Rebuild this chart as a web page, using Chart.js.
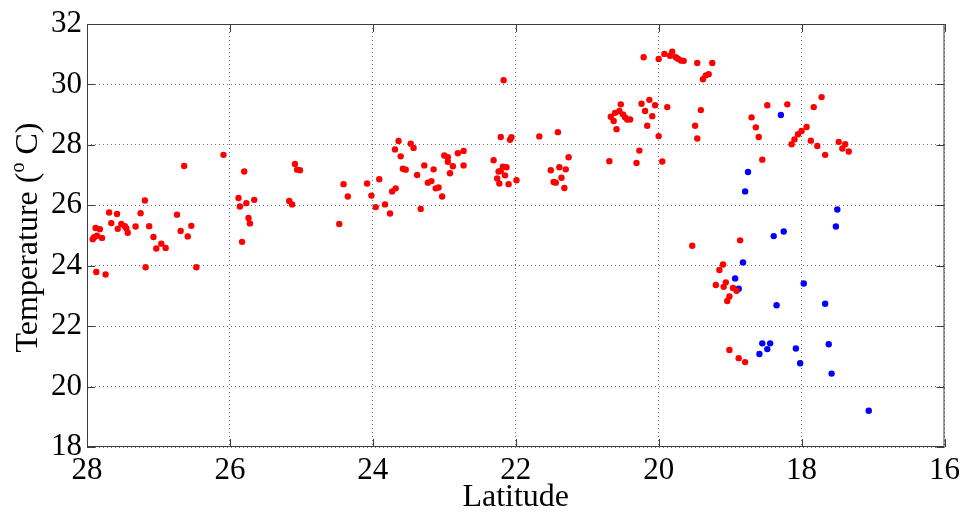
<!DOCTYPE html>
<html>
<head>
<meta charset="utf-8">
<title>Temperature vs Latitude</title>
<script src="https://cdn.jsdelivr.net/npm/chart.js@4.4.1/dist/chart.umd.min.js"></script>
<style>
    html, body { margin: 0; padding: 0; background: #ffffff; }
    #tempChart { display: block; }
</style>
</head>
<body>
<canvas id="tempChart" width="965" height="513"></canvas>
<script>
// Station readings, red group
const redLat = [
    26.09, 26.64, 27.19, 27.69, 27.58, 27.25, 26.74, 27.66, 27.52, 27.47, 27.45, 27.43, 27.57, 27.32, 27.13,
    27.88, 27.82, 27.86, 27.90, 27.92, 27.79, 27.07, 26.96, 27.03, 26.90, 26.69, 26.54, 26.59, 27.18, 26.47,
    27.87, 27.74, 25.88, 25.86, 25.77, 25.66, 25.80, 25.74, 25.72, 25.83, 25.09, 25.06, 25.02, 25.17, 25.13,
    24.41, 24.35, 24.47, 24.08, 24.02, 23.96, 23.91, 23.83, 23.76, 23.73, 23.68, 23.69, 23.64, 23.61, 23.58,
    23.54, 23.47, 23.43, 23.38, 23.33, 23.28, 23.23, 23.18, 23.15, 23.12, 23.08, 23.03, 23.00, 22.95, 22.95,
    22.92, 22.88, 22.81, 22.73, 22.73,
    22.31, 22.17, 22.21, 22.08, 22.06, 21.67, 21.41, 21.26, 21.51, 21.39, 21.30, 21.36, 21.47, 21.44, 21.32,
    22.18, 22.13, 22.24, 22.21, 22.26, 22.15, 22.23, 22.10, 21.99, 20.69, 20.31, 20.27, 19.95, 20.00, 20.59,
    20.67, 20.63, 20.61, 20.55, 20.53, 20.50, 20.47, 20.44, 20.40, 20.24, 20.13, 20.19, 20.05, 20.09, 20.16,
    19.88,
    20.21, 20.00, 19.92, 19.84, 19.81, 19.76, 19.73, 19.69, 19.65, 19.46, 19.25, 19.30, 19.34, 19.38, 19.41,
    19.49, 19.46, 18.70, 18.64, 18.60, 18.55, 18.48,
    18.20, 17.72, 17.83, 17.93, 18.00, 18.05, 18.10, 18.14, 17.87, 17.78, 17.67, 17.48, 17.39, 17.43, 17.34,
    18.86, 19.53,
    19.10, 19.15, 19.06, 19.20, 19.09, 18.96, 18.91, 19.01, 19.04, 19.01, 18.88, 18.79
];
const redTemp = [
    27.67, 27.30, 26.16, 25.76, 25.71, 25.74, 25.69, 25.41, 25.38, 25.31, 25.24, 25.09, 25.22, 25.30, 25.31,
    25.25, 25.21, 24.99, 24.94, 24.88, 24.92, 24.95, 24.73, 24.57, 24.59, 25.15, 25.32, 24.97, 23.95, 23.95,
    23.79, 23.71, 26.24, 25.96, 26.07, 26.18, 27.12, 25.58, 25.40, 24.79, 27.37, 27.18, 27.16, 26.14, 26.03,
    26.70, 26.29, 25.38, 26.72, 26.32, 25.94, 26.86, 26.03, 25.73, 26.46, 26.56, 27.85, 28.13, 27.62, 27.21,
    27.18, 28.04, 27.90, 27.00, 25.88, 27.32, 26.75, 26.80, 27.19, 26.56, 26.59, 26.29, 27.65, 27.59, 27.44,
    27.06, 27.29, 27.72, 27.80, 27.32,
    27.49, 30.14, 28.26, 28.17, 28.25, 28.28, 28.42, 27.59, 27.16, 27.26, 27.19, 26.91, 26.77, 26.75, 26.57,
    27.28, 27.26, 27.12, 27.13, 26.89, 26.99, 26.72, 26.70, 26.83, 27.46, 27.40, 27.81, 27.45, 28.29, 28.52,
    28.93, 28.79, 29.06, 29.12, 29.34, 29.01, 28.91, 28.84, 28.84, 29.36, 29.49, 29.12, 29.31, 28.95, 28.63,
    29.25,
    30.90, 30.84, 31.01, 30.95, 31.08, 30.90, 30.85, 30.79, 30.78, 30.71, 30.71, 30.34, 30.30, 30.17, 29.15,
    28.63, 28.21, 28.91, 28.58, 28.26, 27.51, 29.31,
    29.34, 29.58, 29.25, 28.59, 28.46, 28.35, 28.18, 28.02, 28.14, 27.96, 27.67, 28.10, 28.02, 27.88, 27.78,
    24.84, 24.66,
    24.04, 23.86, 23.45, 23.36, 23.30, 23.26, 23.17, 22.98, 22.83, 21.21, 20.94, 20.81
];

// Station readings, blue group
const blueLat = [
    18.29, 18.75, 18.79, 18.39, 18.25, 17.50, 17.52, 18.82, 18.93, 18.88, 17.97,
    18.35, 17.67, 18.55, 18.44, 18.48, 18.59, 18.08, 18.02, 17.62, 17.58, 17.06
];
const blueTemp = [
    28.99, 27.10, 26.46, 24.98, 25.13, 25.86, 25.30, 24.11, 23.58, 23.24, 23.41,
    22.69, 22.74, 21.43, 21.43, 21.24, 21.08, 21.26, 20.77, 21.40, 20.43, 19.20
];

// Axis ranges and labels
const latRange = [16, 28];
const tempRange = [18, 32];
const tickStep = 2;
const xTitle = 'Latitude';
const yTitleParts = ['Temperature (', 'o', ' C)'];

const serif = "'Liberation Serif', 'Times New Roman', serif";

function toPoints(xs, ys) {
    return xs.map((x, i) => ({ x: x, y: ys[i] }));
}

// Box around the plot with inward tick marks, plus the y title with its superscript
const framePlugin = {
    id: 'frame',
    afterDraw(chart) {
        const { ctx, chartArea: a, scales } = chart;
        const tickLen = 8;
        ctx.save();
        ctx.strokeStyle = '#3c3c3c';
        ctx.lineWidth = 1;
        ctx.strokeRect(a.left + 0.5, a.top + 0.5, a.right - a.left - 1, a.bottom - a.top - 1);

        ctx.beginPath();
        scales.x.ticks.forEach(t => {
            const px = Math.round(scales.x.getPixelForValue(t.value)) + 0.5;
            ctx.moveTo(px, a.bottom); ctx.lineTo(px, a.bottom - tickLen);
            ctx.moveTo(px, a.top); ctx.lineTo(px, a.top + tickLen);
        });
        scales.y.ticks.forEach(t => {
            const py = Math.round(scales.y.getPixelForValue(t.value)) + 0.5;
            ctx.moveTo(a.left, py); ctx.lineTo(a.left + tickLen, py);
            ctx.moveTo(a.right, py); ctx.lineTo(a.right - tickLen, py);
        });
        ctx.stroke();

        // y axis title, rotated, drawn piece by piece
        const big = '32px ' + serif;
        const small = '20px ' + serif;
        ctx.fillStyle = '#000';
        ctx.textBaseline = 'alphabetic';
        ctx.textAlign = 'left';
        ctx.font = big;
        const w0 = ctx.measureText(yTitleParts[0]).width;
        const w2 = ctx.measureText(yTitleParts[2]).width;
        ctx.font = small;
        const w1 = ctx.measureText(yTitleParts[1]).width;
        const total = w0 + w1 + w2;
        ctx.translate(37, (a.top + a.bottom) / 2 + 2);
        ctx.rotate(-Math.PI / 2);
        let cx = -total / 2;
        ctx.font = big;
        ctx.fillText(yTitleParts[0], cx, 0);
        cx += w0;
        ctx.font = small;
        ctx.fillText(yTitleParts[1], cx, -13);
        cx += w1;
        ctx.font = big;
        ctx.fillText(yTitleParts[2], cx, 0);
        ctx.restore();
    }
};

function renderChart() {
    const ctx = document.getElementById('tempChart').getContext('2d');
    Chart.defaults.font.family = serif;
    Chart.defaults.color = '#000';

    const gridOpts = {
        color: 'rgba(0,0,0,0.55)',
        lineWidth: 1,
        drawTicks: false
    };

    new Chart(ctx, {
        type: 'scatter',
        data: {
            datasets: [{
                data: toPoints(redLat, redTemp),
                backgroundColor: '#ff0000',
                borderColor: '#ff0000',
                borderWidth: 0,
                pointRadius: 3.2
            }, {
                data: toPoints(blueLat, blueTemp),
                backgroundColor: '#0000ff',
                borderColor: '#0000ff',
                borderWidth: 0,
                pointRadius: 3.2
            }]
        },
        options: {
            responsive: false,
            animation: false,
            layout: { padding: { top: 24, right: 18, left: 0, bottom: 0 } },
            plugins: {
                legend: { display: false },
                tooltip: { enabled: false }
            },
            scales: {
                x: {
                    type: 'linear',
                    reverse: true,
                    min: latRange[0],
                    max: latRange[1],
                    grid: gridOpts,
                    border: { display: false, dash: [1, 3] },
                    ticks: {
                        stepSize: tickStep,
                        padding: 5,
                        maxRotation: 0,
                        font: { size: 31 }
                    },
                    title: {
                        display: true,
                        text: xTitle,
                        font: { size: 32 },
                        padding: { top: 0, bottom: -4 }
                    },
                    afterFit(scale) { scale.height = 66; }
                },
                y: {
                    type: 'linear',
                    min: tempRange[0],
                    max: tempRange[1],
                    grid: gridOpts,
                    border: { display: false, dash: [1, 3] },
                    ticks: {
                        stepSize: tickStep,
                        padding: 5,
                        font: { size: 31 }
                    },
                    afterFit(scale) { scale.width = 87; }
                }
            }
        },
        plugins: [framePlugin]
    });
}

renderChart();
</script>
</body>
</html>
